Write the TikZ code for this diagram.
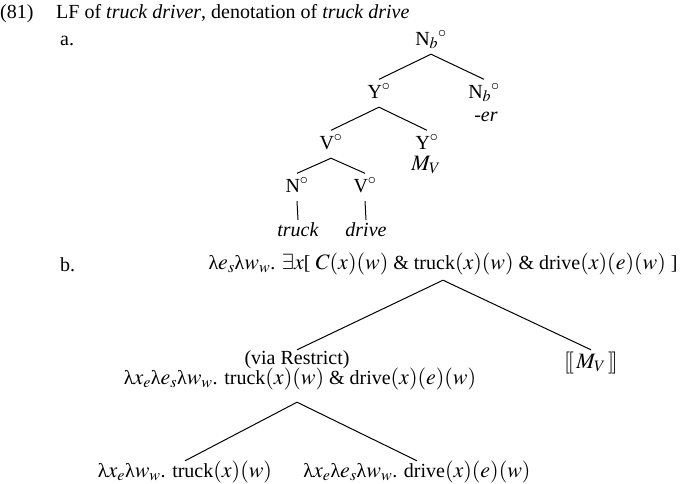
\documentclass[tikz,border=0pt]{standalone}
\usepackage{mathptmx}
\usepackage{fontspec}
\setmainfont{Liberation Serif}
\DeclareMathSizes{20}{22}{16}{12}
\newcommand{\lam}{\mbox{λ}}

\begin{document}
\begin{tikzpicture}[x=1pt, y=-1pt,
  every node/.style={font=\fontsize{20}{22}\selectfont, inner sep=0pt, anchor=base},
  cat/.style={text height=18.5pt, text depth=9pt},
  leaf/.style={text height=16pt, text depth=4pt},
  sem/.style={text height=16pt, text depth=11pt},
  branch/.style={line width=1pt}]
  \useasboundingbox (0,0) rectangle (685,483);
  % Heading
  \node[anchor=base west] (num) at (0,18) {(81)};
  \node[anchor=base west] (title) at (56,18) {LF of \textit{truck driver}, denotation of \textit{truck drive}};
  % (a) the LF tree
  \node[anchor=base west] (parta) at (60,45) {a.};
  \node[cat] (nb1) at (431,45) {N$_b{}^\circ$};
  \node[cat] (y1) at (379,98) {Y$^\circ$};
  \node[cat] (nb2) at (484,98) {N$_b{}^\circ$};
  \node (er) at (486,121) {\textit{-er}};
  \node[cat] (v1) at (331,149) {V$^\circ$};
  \node[cat] (y2) at (427,149) {Y$^\circ$};
  \node (mv1) at (426,170) {$M_V$};
  \node[cat] (n1) at (297,192) {N$^\circ$};
  \node[cat] (v2) at (365,192) {V$^\circ$};
  \node[leaf] (truck) at (298,236) {\textit{truck}};
  \node[leaf] (drive) at (366,236) {\textit{drive}};
  \draw[branch] (y1.north) -- (nb1.south) -- (nb2.north);
  \draw[branch] (v1.north) -- (y1.south) -- (y2.north);
  \draw[branch] (n1.north) -- (v1.south) -- (v2.north);
  \draw[branch] (n1.south) -- (truck.north);
  \draw[branch] (v2.south) -- (drive.north);
  % (b) the denotation tree
  \node[anchor=base west] (partb) at (60,271) {b.};
  \node[sem] (top) at (443,269) {$\lam e_s\lam w_w$. $\exists x$[ $C(x)(w)$ \& truck$(x)(w)$ \& drive$(x)(e)(w)$ ]};
  \node[sem, text height=14pt] (via) at (297,364) {(via Restrict)};
  \node[sem, text depth=18pt] (mid) at (300,384) {$\lam x_e\lam e_s\lam w_w$. truck$(x)(w)$ \& drive$(x)(e)(w)$};
  \node[sem, text height=18pt] (mv) at (591,368) {$[\![\,M_V\,]\!]$};
  \node[sem] (c1) at (185,477) {$\lam x_e\lam w_w$. truck$(x)(w)$};
  \node[sem] (c2) at (417,477) {$\lam x_e\lam e_s\lam w_w$. drive$(x)(e)(w)$};
  \draw[branch] (via.north) -- (top.south) -- (mv.north);
  \draw[branch] (c1.north) -- (via |- mid.south) -- (c2.north);
\end{tikzpicture}
\end{document}
